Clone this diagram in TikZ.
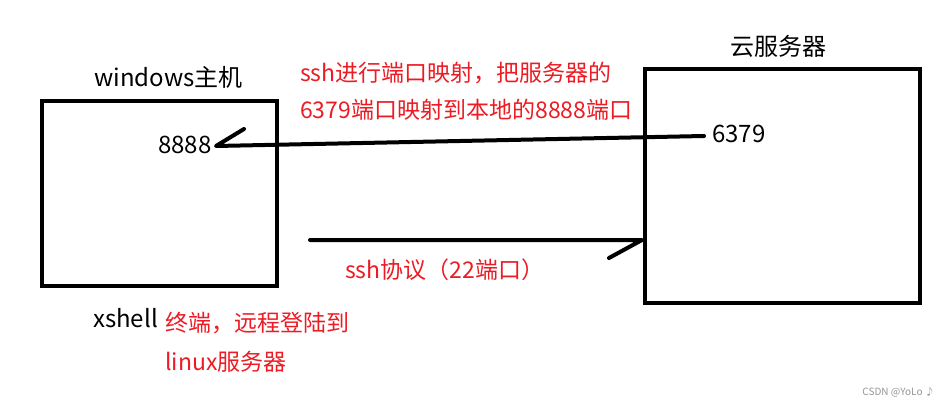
\documentclass[tikz,border=0pt]{standalone}
\usepackage{fontspec}
\setmainfont{Noto Sans CJK SC}
\definecolor{pred}{RGB}{237,28,36}
\definecolor{wm}{RGB}{150,150,150}
\begin{document}
\begin{tikzpicture}[x=1pt,y=-1pt,
  box/.style={draw=black,line width=4pt},
  stroke/.style={draw=black,line width=4pt,line cap=round,line join=round},
  blk/.style={inner sep=0pt,anchor=west,font=\fontsize{24}{28}\selectfont},
  rtxt/.style={inner sep=0pt,anchor=west,text=pred,font=\fontsize{23}{27}\selectfont}]
\useasboundingbox[fill=white] (0,0) rectangle (950,406);
% boxes
\draw[box] (42,101) rectangle (277,286);
\draw[box] (645,69) rectangle (920,303);
% black labels
\node[blk] (win) at (94,77) {windows主机};
\node[blk] (cloud) at (730,46) {云服务器};
\node[blk] (p8888) at (158,145) {8888};
\node[blk] (p6379) at (712,134) {6379};
\node[blk] (xsh) at (93,318) {xshell};
% red labels
\node[rtxt] (m1) at (300,73) {ssh进行端口映射，把服务器的};
\node[rtxt] (m2) at (300,110) {6379端口映射到本地的8888端口};
\node[rtxt] (s1) at (345,270) {ssh协议（22端口）};
\node[rtxt] (t1) at (165,323) {终端，远程登陆到};
\node[rtxt] (t2) at (165,362) {linux服务器};
% watermark
\node[inner sep=0pt,anchor=east,text=wm,font=\fontsize{10}{12}\selectfont] (wmk) at (935,392) {CSDN @YoLo ♪};
% port mapping arrow (tip at 8888)
\coordinate (ta) at (216,146);
\coordinate (ha) at (244,129);
\coordinate (ea) at (704,136);
\draw[stroke] (ea) -- (ta) -- (ha);
% ssh arrow (tip at cloud server)
\coordinate (sb) at (310,240);
\coordinate (tb) at (642,240);
\coordinate (hb) at (609,258);
\draw[stroke] (sb) -- (tb) -- (hb);
\end{tikzpicture}
\end{document}
